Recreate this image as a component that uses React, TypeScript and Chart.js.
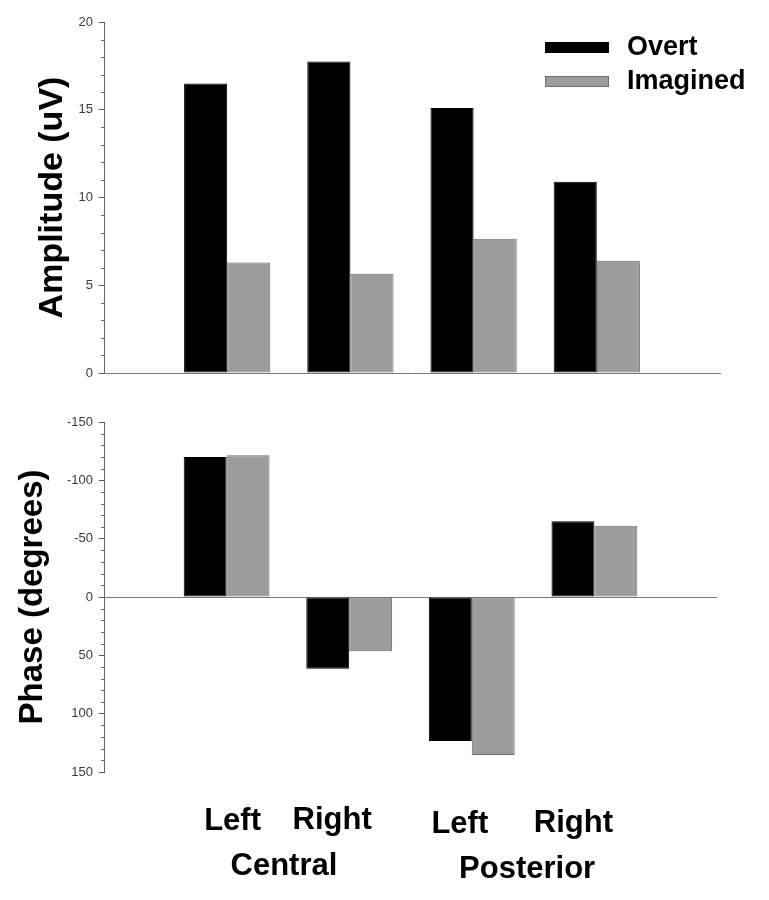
import React, { useEffect, useRef } from 'react';
import { Chart, registerables } from 'chart.js';

Chart.register(...registerables);

// ---- data ----
const categories = ['Left', 'Right', 'Left', 'Right'];
const groups = ['Central', 'Posterior'];
const seriesNames = ['Overt', 'Imagined'];
const amplitudeOvert = [16.5, 17.75, 15.1, 10.9];
const amplitudeImagined = [6.3, 5.65, 7.65, 6.4];
const phaseOvert = [-120, 61.5, 123.5, -65];
const phaseImagined = [-121.5, 46.5, 135.5, -61];
const amplitudeAxis = [0, 20, 5, 1]; // min, max, major step, minor step
const phaseAxis = [-150, 150, 50, 10];

const FONT = "'Liberation Sans', Arial, Helvetica, sans-serif";
const OVERT_FILL = '#000000';
const IMAG_FILL = '#9c9c9c';
const IMAG_BORDER = '#6e6e6e';

const labels = ['', ...categories, ''];
const pad = (arr: number[]) => [null, ...arr, null];

const makeDatasets = (a: number[], b: number[]) => [
  {
    label: seriesNames[0],
    data: pad(a),
    backgroundColor: OVERT_FILL,
    borderColor: '#000000',
    borderWidth: 1,
    borderSkipped: false,
    categoryPercentage: 0.7,
    barPercentage: 1.0,
  },
  {
    label: seriesNames[1],
    data: pad(b),
    backgroundColor: IMAG_FILL,
    borderColor: IMAG_BORDER,
    borderWidth: 1,
    borderSkipped: false,
    categoryPercentage: 0.7,
    barPercentage: 1.0,
  },
];

// ---- plugins ----
const minorTicksPlugin = {
  id: 'minorTicks',
  afterDraw(chart: any, _args: any, opts: any) {
    if (!opts || !opts.step) return;
    const y = chart.scales.y;
    const ctx = chart.ctx;
    const x0 = chart.chartArea.left;
    ctx.save();
    ctx.strokeStyle = '#666';
    ctx.lineWidth = 1;
    const lo = Math.min(y.min, y.max);
    const hi = Math.max(y.min, y.max);
    for (let v = lo; v <= hi + 1e-9; v += opts.step) {
      if (Math.abs(v % opts.major) < 1e-9) continue;
      const py = Math.round(y.getPixelForValue(v)) + 0.5;
      ctx.beginPath();
      ctx.moveTo(x0 - 3, py);
      ctx.lineTo(x0 + 1, py);
      ctx.stroke();
    }
    ctx.restore();
  },
};

const yTitlePlugin = {
  id: 'yTitle',
  afterDraw(chart: any, _args: any, opts: any) {
    if (!opts || !opts.text) return;
    const ctx = chart.ctx;
    const { top, bottom } = chart.chartArea;
    ctx.save();
    ctx.translate(opts.x, (top + bottom) / 2);
    ctx.rotate(-Math.PI / 2);
    ctx.fillStyle = '#000';
    ctx.font = `bold ${opts.size}px ${FONT}`;
    ctx.textAlign = 'center';
    ctx.textBaseline = 'alphabetic';
    ctx.fillText(opts.text, 0, 0);
    ctx.restore();
  },
};

const boxLegendPlugin = {
  id: 'boxLegend',
  afterDraw(chart: any, _args: any, opts: any) {
    if (!opts || !opts.show) return;
    const ctx = chart.ctx;
    const { right, top } = chart.chartArea;
    const sx = right - 175;
    chart.data.datasets.forEach((ds: any, i: number) => {
      const sy = top + 20 + i * 34;
      ctx.save();
      ctx.fillStyle = ds.backgroundColor;
      ctx.fillRect(sx, sy, 64, 11);
      ctx.strokeStyle = ds.borderColor;
      ctx.lineWidth = 1;
      ctx.strokeRect(sx + 0.5, sy + 0.5, 63, 10);
      ctx.fillStyle = '#000';
      ctx.font = `bold 27px ${FONT}`;
      ctx.textAlign = 'left';
      ctx.textBaseline = 'middle';
      ctx.fillText(ds.label, sx + 82, sy + 6);
      ctx.restore();
    });
  },
};

const catLabelPlugin = {
  id: 'catLabels',
  afterDraw(chart: any, _args: any, opts: any) {
    if (!opts || !opts.show) return;
    const ctx = chart.ctx;
    const x = chart.scales.x;
    const nudge = [6, -17, -12, -21];
    const base = [430, 429, 433, 432];
    ctx.save();
    ctx.fillStyle = '#000';
    ctx.font = `bold 31px ${FONT}`;
    ctx.textAlign = 'center';
    ctx.textBaseline = 'alphabetic';
    categories.forEach((c, i) => {
      const px = x.getPixelForValue(i + 1) + nudge[i];
      ctx.fillText(c, px, base[i]);
    });
    const gNudge = [-4, -6];
    const gBase = [475, 478];
    groups.forEach((g, gi) => {
      const a = x.getPixelForValue(gi * 2 + 1);
      const b = x.getPixelForValue(gi * 2 + 2);
      ctx.fillText(g, (a + b) / 2 + gNudge[gi], gBase[gi]);
    });
    ctx.restore();
  },
};

function makeConfig(
  a: number[],
  b: number[],
  axis: number[],
  reverse: boolean,
  pads: { top: number; bottom: number; right: number },
  title: { text: string; x: number; size: number },
  legend: boolean,
  zeroLine: boolean,
): any {
  return {
    type: 'bar',
    data: { labels, datasets: makeDatasets(a, b) },
    plugins: [minorTicksPlugin, yTitlePlugin, boxLegendPlugin, catLabelPlugin],
    options: {
      animation: false,
      responsive: false,
      maintainAspectRatio: false,
      layout: { padding: { left: 0, top: pads.top, bottom: pads.bottom, right: pads.right } },
      plugins: {
        legend: { display: false },
        tooltip: { enabled: false },
        title: { display: false },
        minorTicks: { step: axis[3], major: axis[2] },
        yTitle: title,
        boxLegend: { show: legend },
        catLabels: { show: !legend },
      },
      scales: {
        x: {
          type: 'category',
          offset: false,
          ticks: { display: false },
          grid: { display: false, drawTicks: false },
          border: { display: !zeroLine, color: '#7a7a7a', width: 1 },
        },
        y: {
          min: axis[0],
          max: axis[1],
          reverse,
          afterFit: (s: any) => {
            s.width = 104;
          },
          ticks: {
            stepSize: axis[2],
            color: '#3a3a3a',
            font: { family: FONT, size: 13 },
            padding: 6,
          },
          grid: {
            drawOnChartArea: zeroLine,
            drawTicks: true,
            tickLength: 5,
            tickColor: '#555',
            tickWidth: 1,
            lineWidth: 1,
            color: (c: any) =>
              zeroLine && c.tick && c.tick.value === 0 ? '#7a7a7a' : 'rgba(0,0,0,0)',
          },
          border: { display: true, color: '#666', width: 1 },
        },
      },
    },
  };
}

export default function App() {
  const topRef = useRef<HTMLCanvasElement | null>(null);
  const botRef = useRef<HTMLCanvasElement | null>(null);

  useEffect(() => {
    const c1 = new Chart(
      topRef.current as HTMLCanvasElement,
      makeConfig(
        amplitudeOvert,
        amplitudeImagined,
        amplitudeAxis,
        false,
        { top: 22, bottom: 27, right: 49 },
        { text: 'Amplitude (uV)', x: 62, size: 34 },
        true,
        false,
      ),
    );
    const c2 = new Chart(
      botRef.current as HTMLCanvasElement,
      makeConfig(
        phaseOvert,
        phaseImagined,
        phaseAxis,
        true,
        { top: 22, bottom: 128, right: 52 },
        { text: 'Phase (degrees)', x: 42, size: 33 },
        false,
        true,
      ),
    );
    return () => {
      c1.destroy();
      c2.destroy();
    };
  }, []);

  return (
    <div style={{ position: 'absolute', left: 0, top: 0, width: 769, height: 900, background: '#fff' }}>
      <canvas ref={topRef} width={769} height={400} style={{ position: 'absolute', left: 0, top: 0 }} />
      <canvas ref={botRef} width={769} height={500} style={{ position: 'absolute', left: 0, top: 400 }} />
    </div>
  );
}
